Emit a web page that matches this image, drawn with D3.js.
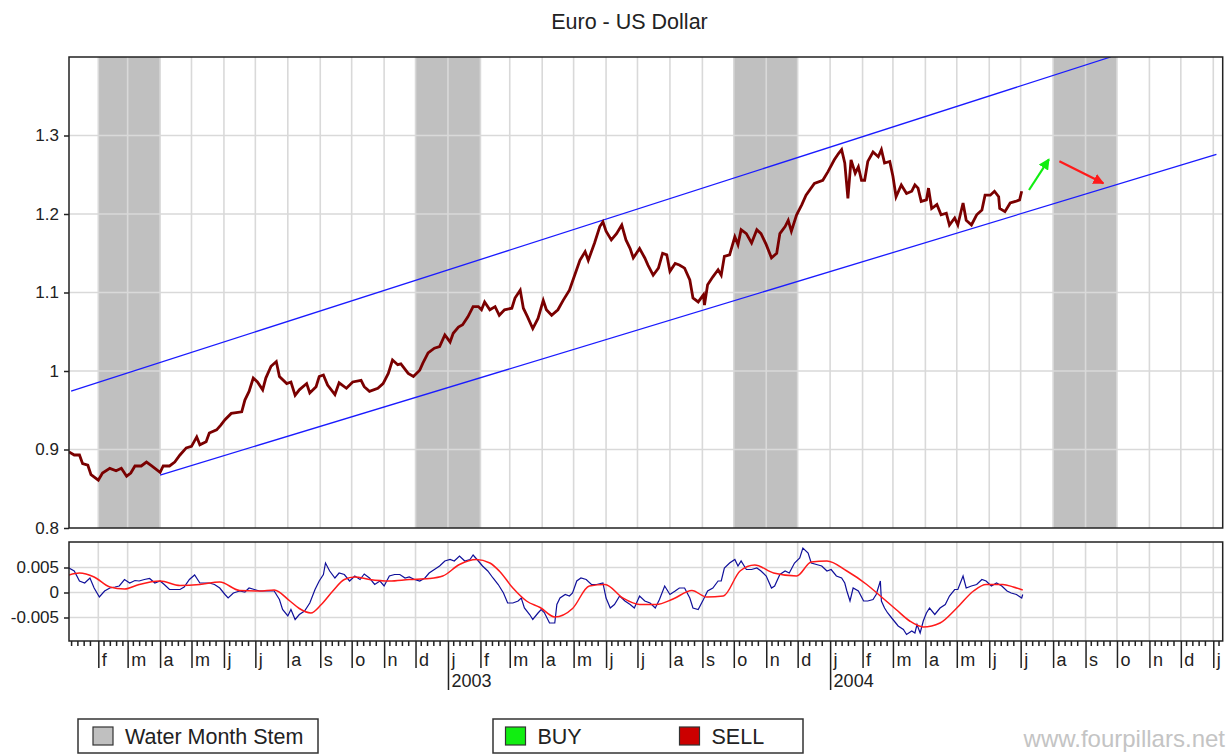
<!DOCTYPE html>
<html>
<head>
<meta charset="utf-8">
<script src="https://cdn.jsdelivr.net/npm/d3@7"></script>
<style>
  body { margin: 0; background: #fff; }
  svg { display: block; font-family: 'Liberation Sans', Arial, sans-serif; }
</style>
</head>
<body>
<svg id="chart" width="1229" height="754"></svg>
<script>
// ---- data ----
const price = [
  ['2002-01-04', 0.897], ['2002-01-09', 0.893], ['2002-01-14', 0.893], ['2002-01-17', 0.882], ['2002-01-22', 0.880],
  ['2002-01-25', 0.868], ['2002-02-01', 0.861], ['2002-02-05', 0.870], ['2002-02-12', 0.876], ['2002-02-18', 0.873],
  ['2002-02-23', 0.876], ['2002-02-28', 0.866], ['2002-03-04', 0.870], ['2002-03-08', 0.879], ['2002-03-14', 0.879],
  ['2002-03-19', 0.884], ['2002-03-24', 0.879], ['2002-04-01', 0.871], ['2002-04-04', 0.879], ['2002-04-10', 0.879],
  ['2002-04-15', 0.884], ['2002-04-20', 0.893], ['2002-04-26', 0.902], ['2002-05-01', 0.904], ['2002-05-06', 0.916],
  ['2002-05-09', 0.906], ['2002-05-15', 0.910], ['2002-05-18', 0.921], ['2002-05-25', 0.925], ['2002-05-29', 0.931],
  ['2002-06-02', 0.938], ['2002-06-08', 0.946], ['2002-06-18', 0.948], ['2002-06-21', 0.963], ['2002-06-25', 0.974],
  ['2002-06-29', 0.991], ['2002-07-03', 0.986], ['2002-07-08', 0.976], ['2002-07-11', 0.991], ['2002-07-16', 1.006],
  ['2002-07-21', 1.012], ['2002-07-24', 0.993], ['2002-07-31', 0.984], ['2002-08-04', 0.986], ['2002-08-08', 0.969],
  ['2002-08-12', 0.976], ['2002-08-19', 0.984], ['2002-08-22', 0.972], ['2002-08-28', 0.980], ['2002-08-31', 0.993],
  ['2002-09-04', 0.995], ['2002-09-08', 0.982], ['2002-09-15', 0.970], ['2002-09-19', 0.985], ['2002-09-26', 0.978],
  ['2002-10-02', 0.986], ['2002-10-10', 0.988], ['2002-10-13', 0.980], ['2002-10-18', 0.974], ['2002-10-26', 0.978],
  ['2002-10-31', 0.984], ['2002-11-05', 0.997], ['2002-11-09', 1.014], ['2002-11-14', 1.008], ['2002-11-17', 1.009],
  ['2002-11-24', 0.997], ['2002-11-29', 0.993], ['2002-12-05', 1.001], ['2002-12-08', 1.010], ['2002-12-13', 1.023],
  ['2002-12-19', 1.029], ['2002-12-24', 1.031], ['2002-12-29', 1.046], ['2003-01-03', 1.037], ['2003-01-06', 1.048],
  ['2003-01-11', 1.056], ['2003-01-15', 1.059], ['2003-01-20', 1.069], ['2003-01-25', 1.082], ['2003-01-30', 1.082],
  ['2003-02-02', 1.078], ['2003-02-05', 1.088], ['2003-02-10', 1.078], ['2003-02-15', 1.082], ['2003-02-19', 1.071],
  ['2003-02-24', 1.078], ['2003-03-03', 1.080], ['2003-03-06', 1.093], ['2003-03-11', 1.103], ['2003-03-14', 1.080],
  ['2003-03-18', 1.069], ['2003-03-23', 1.054], ['2003-03-28', 1.067], ['2003-04-02', 1.090], ['2003-04-05', 1.078],
  ['2003-04-10', 1.071], ['2003-04-16', 1.078], ['2003-04-21', 1.090], ['2003-04-27', 1.103], ['2003-05-02', 1.122],
  ['2003-05-07', 1.141], ['2003-05-12', 1.152], ['2003-05-15', 1.141], ['2003-05-21', 1.163], ['2003-05-26', 1.184],
  ['2003-05-29', 1.190], ['2003-06-01', 1.178], ['2003-06-06', 1.167], ['2003-06-11', 1.175], ['2003-06-16', 1.186],
  ['2003-06-20', 1.167], ['2003-06-24', 1.156], ['2003-06-27', 1.144], ['2003-07-03', 1.156], ['2003-07-08', 1.144],
  ['2003-07-11', 1.135], ['2003-07-16', 1.122], ['2003-07-21', 1.131], ['2003-07-25', 1.150], ['2003-07-29', 1.148],
  ['2003-08-01', 1.127], ['2003-08-06', 1.137], ['2003-08-10', 1.135], ['2003-08-15', 1.131], ['2003-08-20', 1.116],
  ['2003-08-23', 1.093], ['2003-08-28', 1.088], ['2003-09-02', 1.097], ['2003-09-03', 1.084], ['2003-09-06', 1.110],
  ['2003-09-11', 1.120], ['2003-09-16', 1.129], ['2003-09-19', 1.122], ['2003-09-22', 1.146], ['2003-09-27', 1.148],
  ['2003-10-02', 1.171], ['2003-10-05', 1.161], ['2003-10-08', 1.180], ['2003-10-13', 1.175], ['2003-10-18', 1.163],
  ['2003-10-23', 1.180], ['2003-10-27', 1.175], ['2003-11-01', 1.161], ['2003-11-06', 1.144], ['2003-11-11', 1.150],
  ['2003-11-14', 1.175], ['2003-11-19', 1.184], ['2003-11-22', 1.192], ['2003-11-25', 1.178], ['2003-11-30', 1.199],
  ['2003-12-05', 1.212], ['2003-12-09', 1.224], ['2003-12-17', 1.239], ['2003-12-25', 1.243], ['2003-12-30', 1.254],
  ['2004-01-05', 1.269], ['2004-01-09', 1.277], ['2004-01-12', 1.282], ['2004-01-15', 1.265], ['2004-01-18', 1.220],
  ['2004-01-21', 1.269], ['2004-01-25', 1.252], ['2004-01-28', 1.260], ['2004-01-31', 1.243], ['2004-02-03', 1.243],
  ['2004-02-06', 1.267], ['2004-02-11', 1.279], ['2004-02-16', 1.273], ['2004-02-19', 1.282], ['2004-02-22', 1.265],
  ['2004-02-27', 1.267], ['2004-03-01', 1.248], ['2004-03-04', 1.222], ['2004-03-09', 1.237], ['2004-03-14', 1.226],
  ['2004-03-19', 1.229], ['2004-03-22', 1.237], ['2004-03-25', 1.233], ['2004-03-28', 1.216], ['2004-04-02', 1.218],
  ['2004-04-04', 1.233], ['2004-04-07', 1.207], ['2004-04-12', 1.212], ['2004-04-16', 1.199], ['2004-04-21', 1.201],
  ['2004-04-24', 1.186], ['2004-04-29', 1.195], ['2004-05-02', 1.186], ['2004-05-07', 1.214], ['2004-05-10', 1.192],
  ['2004-05-15', 1.186], ['2004-05-20', 1.199], ['2004-05-25', 1.205], ['2004-05-28', 1.224], ['2004-06-02', 1.224],
  ['2004-06-06', 1.229], ['2004-06-10', 1.222], ['2004-06-11', 1.207], ['2004-06-16', 1.203], ['2004-06-21', 1.214],
  ['2004-06-26', 1.216], ['2004-06-30', 1.218], ['2004-07-02', 1.229]
];

// lower panel, fast (blue) line
const oscillator = [
  ['2002-01-04', 0.0049], ['2002-01-09', 0.0043], ['2002-01-14', 0.0023], ['2002-01-19', 0.0019], ['2002-01-24', 0.0029],
  ['2002-01-28', 0.0009], ['2002-02-02', -0.0009], ['2002-02-07', 0.0003], ['2002-02-12', 0.0009], ['2002-02-17', 0.0011],
  ['2002-02-21', 0.0013], ['2002-02-26', 0.0026], ['2002-03-03', 0.0019], ['2002-03-08', 0.0024], ['2002-03-12', 0.0023],
  ['2002-03-17', 0.0026], ['2002-03-22', 0.0028], ['2002-03-27', 0.0019], ['2002-04-01', 0.0023], ['2002-04-05', 0.0016],
  ['2002-04-10', 0.0006], ['2002-04-15', 0.0006], ['2002-04-20', 0.0006], ['2002-04-24', 0.0011], ['2002-04-29', 0.0026],
  ['2002-05-04', 0.0035], ['2002-05-09', 0.0019], ['2002-05-14', 0.0019], ['2002-05-18', 0.0019], ['2002-05-23', 0.0016],
  ['2002-05-28', 0.0009], ['2002-06-02', -0.0004], ['2002-06-05', -0.0011], ['2002-06-10', -0.0001], ['2002-06-16', 0.0003],
  ['2002-06-21', 0.0001], ['2002-06-25', 0.0009], ['2002-06-30', 0.0006], ['2002-07-05', 0.0003], ['2002-07-10', 0.0003],
  ['2002-07-15', 0.0003], ['2002-07-19', 0.0003], ['2002-07-24', -0.0014], ['2002-07-27', -0.0034], ['2002-08-01', -0.0047],
  ['2002-08-04', -0.0034], ['2002-08-08', -0.0054], ['2002-08-12', -0.0044], ['2002-08-17', -0.0037], ['2002-08-22', -0.0021],
  ['2002-08-27', 0.0006], ['2002-08-31', 0.0023], ['2002-09-04', 0.0036], ['2002-09-06', 0.0059], ['2002-09-10', 0.0043],
  ['2002-09-15', 0.0029], ['2002-09-19', 0.0039], ['2002-09-24', 0.0036], ['2002-09-29', 0.0023], ['2002-10-04', 0.0033],
  ['2002-10-09', 0.0026], ['2002-10-13', 0.0037], ['2002-10-18', 0.0029], ['2002-10-23', 0.0016], ['2002-10-28', 0.0023],
  ['2002-11-01', 0.0013], ['2002-11-06', 0.0033], ['2002-11-11', 0.0036], ['2002-11-16', 0.0036], ['2002-11-21', 0.0029],
  ['2002-11-25', 0.0031], ['2002-11-30', 0.0026], ['2002-12-05', 0.0023], ['2002-12-10', 0.0029], ['2002-12-14', 0.0039],
  ['2002-12-19', 0.0046], ['2002-12-24', 0.0053], ['2002-12-29', 0.0063], ['2003-01-03', 0.0066], ['2003-01-07', 0.0063],
  ['2003-01-12', 0.0073], ['2003-01-17', 0.0063], ['2003-01-22', 0.0066], ['2003-01-25', 0.0075], ['2003-01-30', 0.0063],
  ['2003-02-03', 0.0053], ['2003-02-08', 0.0043], ['2003-02-13', 0.0029], ['2003-02-18', 0.0016], ['2003-02-23', -0.0001],
  ['2003-02-27', -0.0021], ['2003-03-04', -0.0021], ['2003-03-09', -0.0017], ['2003-03-12', -0.0011], ['2003-03-15', -0.0031],
  ['2003-03-20', -0.0044], ['2003-03-23', -0.0054], ['2003-03-28', -0.0041], ['2003-03-31', -0.0034], ['2003-04-03', -0.0040],
  ['2003-04-08', -0.0061], ['2003-04-13', -0.0061], ['2003-04-15', -0.0024], ['2003-04-18', -0.0011], ['2003-04-23', -0.0004],
  ['2003-04-27', -0.0007], ['2003-04-30', -0.0001], ['2003-05-04', 0.0023], ['2003-05-08', 0.0029], ['2003-05-13', 0.0026],
  ['2003-05-18', 0.0016], ['2003-05-23', 0.0016], ['2003-05-29', 0.0019], ['2003-06-01', -0.0011], ['2003-06-05', -0.0031],
  ['2003-06-09', -0.0024], ['2003-06-14', -0.0007], ['2003-06-19', -0.0017], ['2003-06-24', -0.0024], ['2003-06-28', -0.0031],
  ['2003-07-03', -0.0007], ['2003-07-08', -0.0017], ['2003-07-13', -0.0021], ['2003-07-18', -0.0031], ['2003-07-22', -0.0014],
  ['2003-07-27', 0.0013], ['2003-08-01', -0.0004], ['2003-08-06', 0.0003], ['2003-08-10', 0.0009], ['2003-08-15', 0.0009],
  ['2003-08-20', -0.0011], ['2003-08-23', -0.0031], ['2003-08-28', -0.0034], ['2003-09-02', -0.0014], ['2003-09-06', 0.0003],
  ['2003-09-11', 0.0009], ['2003-09-16', 0.0023], ['2003-09-19', 0.0023], ['2003-09-22', 0.0049], ['2003-09-27', 0.0059],
  ['2003-10-02', 0.0066], ['2003-10-05', 0.0053], ['2003-10-08', 0.0063], ['2003-10-13', 0.0046], ['2003-10-18', 0.0046],
  ['2003-10-23', 0.0049], ['2003-10-27', 0.0043], ['2003-11-01', 0.0033], ['2003-11-06', 0.0009], ['2003-11-09', 0.0013],
  ['2003-11-14', 0.0036], ['2003-11-19', 0.0043], ['2003-11-23', 0.0039], ['2003-11-28', 0.0059], ['2003-12-03', 0.0069],
  ['2003-12-06', 0.0089], ['2003-12-11', 0.0079], ['2003-12-14', 0.0059], ['2003-12-19', 0.0056], ['2003-12-24', 0.0053],
  ['2003-12-29', 0.0043], ['2004-01-02', 0.0046], ['2004-01-07', 0.0033], ['2004-01-12', 0.0029], ['2004-01-15', 0.0019],
  ['2004-01-17', 0.0003], ['2004-01-20', -0.0017], ['2004-01-23', 0.0009], ['2004-01-28', 0.0003], ['2004-02-02', -0.0017],
  ['2004-02-06', -0.0017], ['2004-02-11', -0.0014], ['2004-02-14', -0.0004], ['2004-02-18', 0.0023], ['2004-02-19', -0.0017],
  ['2004-02-22', -0.0031], ['2004-02-25', -0.0041], ['2004-03-01', -0.0054], ['2004-03-06', -0.0067], ['2004-03-11', -0.0074],
  ['2004-03-14', -0.0084], ['2004-03-19', -0.0077], ['2004-03-22', -0.0081], ['2004-03-24', -0.0064], ['2004-03-27', -0.0081],
  ['2004-03-30', -0.0057], ['2004-04-02', -0.0041], ['2004-04-05', -0.0031], ['2004-04-10', -0.0044], ['2004-04-15', -0.0031],
  ['2004-04-20', -0.0024], ['2004-04-24', -0.0007], ['2004-04-29', 0.0006], ['2004-05-02', 0.0006], ['2004-05-07', 0.0033],
  ['2004-05-10', 0.0009], ['2004-05-15', 0.0013], ['2004-05-20', 0.0016], ['2004-05-25', 0.0026], ['2004-05-29', 0.0023],
  ['2004-06-03', 0.0013], ['2004-06-08', 0.0019], ['2004-06-13', 0.0013], ['2004-06-18', 0.0003], ['2004-06-22', -0.0001],
  ['2004-06-27', -0.0004], ['2004-07-02', -0.0011], ['2004-07-03', -0.0004]
];

// lower panel, smoothed (red) line
const signal = [
  ['2002-01-04', 0.0035], ['2002-01-14', 0.0039], ['2002-01-28', 0.0031], ['2002-02-12', 0.0011], ['2002-02-26', 0.0007],
  ['2002-03-12', 0.0016], ['2002-04-01', 0.0023], ['2002-04-20', 0.0014], ['2002-05-09', 0.0016], ['2002-05-28', 0.0021],
  ['2002-06-16', 0.0004], ['2002-07-05', 0.0003], ['2002-07-19', 0.0005], ['2002-08-03', -0.0017], ['2002-08-12', -0.0032],
  ['2002-08-23', -0.0041], ['2002-09-02', -0.0024], ['2002-09-13', 0.0003], ['2002-09-24', 0.0026], ['2002-10-04', 0.0031],
  ['2002-10-18', 0.0026], ['2002-11-06', 0.0023], ['2002-11-25', 0.0026], ['2002-12-14', 0.0028], ['2002-12-27', 0.0033],
  ['2003-01-12', 0.0056], ['2003-01-28', 0.0066], ['2003-02-10', 0.0059], ['2003-02-19', 0.0043], ['2003-03-04', 0.0009],
  ['2003-03-17', -0.0017], ['2003-03-30', -0.0030], ['2003-04-13', -0.0049], ['2003-04-30', -0.0032], ['2003-05-16', 0.0013],
  ['2003-05-31', 0.0016], ['2003-06-17', -0.0011], ['2003-07-03', -0.0024], ['2003-07-19', -0.0024], ['2003-08-04', -0.0013],
  ['2003-08-22', 0.0004], ['2003-09-05', -0.0009], ['2003-09-21', -0.0007], ['2003-10-07', 0.0043], ['2003-10-21', 0.0055],
  ['2003-11-08', 0.0039], ['2003-11-30', 0.0033], ['2003-12-14', 0.0061], ['2003-12-29', 0.0063], ['2004-01-17', 0.0043],
  ['2004-02-05', 0.0016], ['2004-02-18', -0.0007], ['2004-03-04', -0.0034], ['2004-03-17', -0.0057], ['2004-03-30', -0.0069],
  ['2004-04-15', -0.0061], ['2004-05-01', -0.0031], ['2004-05-17', 0.0003], ['2004-05-29', 0.0016], ['2004-06-14', 0.0016],
  ['2004-06-24', 0.0011], ['2004-07-03', 0.0005]
];

const waterBands = [
  ['2002-02-01', '2002-04-01'], ['2002-12-01', '2003-02-01'],
  ['2003-10-01', '2003-12-01'], ['2004-08-01', '2004-10-01']
];
const upperChannel = [['2002-01-06', 0.9745], ['2004-09-25', 1.4]];
const lowerChannel = [['2002-04-01', 0.8675], ['2005-01-04', 1.276]];
const buyArrow = [['2004-07-09', 1.2306], ['2004-07-28', 1.2697]];
const sellArrow = [['2004-08-07', 1.2671], ['2004-09-18', 1.2391]];

const priceTicks = [0.8, 0.9, 1.0, 1.1, 1.2, 1.3];
const priceTickLabels = ['0.8', '0.9', '1', '1.1', '1.2', '1.3'];
const oscTicks = [0.005, 0, -0.005];
const oscTickLabels = ['0.005', '0', '-0.005'];
const monthLetters = ['j', 'f', 'm', 'a', 'm', 'j', 'j', 'a', 's', 'o', 'n', 'd'];
const minorTickDays = [6, 12, 18, 24];

// ---- layout ----
const parseDate = d3.timeParse('%Y-%m-%d');
const left = 69, right = 1222.7;
const main = { top: 57, bottom: 528 };
const lower = { top: 542, bottom: 641 };
const gridColor = '#d9d9d9';
const frameColor = '#222';

const svg = d3.select('#chart');

const x = d3.scaleTime()
  .domain([parseDate('2002-01-04'), parseDate('2005-01-10')])
  .range([left, right]);
const y = d3.scaleLinear().domain([0.8, 1.4]).range([main.bottom, main.top]);
const yOsc = d3.scaleLinear().domain([-0.0097, 0.0101]).range([lower.bottom, lower.top]);

const months = d3.timeMonth.range(d3.timeMonth.ceil(x.domain()[0]), x.domain()[1]);
const minorDays = [];
d3.timeMonth.range(d3.timeMonth.floor(x.domain()[0]), x.domain()[1]).forEach((m) => {
  minorTickDays.forEach((day) => {
    const d = new Date(m.getFullYear(), m.getMonth(), day);
    if (d >= x.domain()[0] && d <= x.domain()[1]) minorDays.push(d);
  });
});

const toPoints = (rows) => rows.map(([d, v]) => ({ date: parseDate(d), value: v }));

// title
svg.append('text')
  .attr('x', 629.5)
  .attr('y', 29)
  .attr('text-anchor', 'middle')
  .style('font-size', '21.5px')
  .attr('fill', '#222')
  .text('Euro - US Dollar');

// ---- main panel ----
const mainG = svg.append('g');

mainG.selectAll('rect.band')
  .data(waterBands)
  .join('rect')
  .attr('class', 'band')
  .attr('x', (d) => x(parseDate(d[0])))
  .attr('width', (d) => x(parseDate(d[1])) - x(parseDate(d[0])))
  .attr('y', main.top)
  .attr('height', main.bottom - main.top)
  .attr('fill', '#c0c0c0');

function drawGrid(g, yScale, yValues, top, bottom) {
  g.selectAll('line.vgrid')
    .data(months)
    .join('line')
    .attr('class', 'vgrid')
    .attr('x1', (d) => x(d)).attr('x2', (d) => x(d))
    .attr('y1', top).attr('y2', bottom)
    .attr('stroke', gridColor)
    .attr('stroke-width', 1.6);
  g.selectAll('line.hgrid')
    .data(yValues)
    .join('line')
    .attr('class', 'hgrid')
    .attr('x1', left).attr('x2', right)
    .attr('y1', (d) => yScale(d)).attr('y2', (d) => yScale(d))
    .attr('stroke', gridColor)
    .attr('stroke-width', 1.6);
}

drawGrid(mainG, y, priceTicks.slice(1), main.top, main.bottom);

const defs = svg.append('defs');
defs.append('clipPath').attr('id', 'clipMain')
  .append('rect')
  .attr('x', left).attr('y', main.top)
  .attr('width', right - left).attr('height', main.bottom - main.top);

// arrow heads
[['headGreen', '#11ee11'], ['headRed', '#ff1a1a']].forEach(([id, color]) => {
  defs.append('marker')
    .attr('id', id)
    .attr('viewBox', '0 0 10 10')
    .attr('refX', 9).attr('refY', 5)
    .attr('markerWidth', 5).attr('markerHeight', 5)
    .attr('markerUnits', 'strokeWidth')
    .attr('orient', 'auto')
    .append('path')
    .attr('d', 'M0,0L10,5L0,10z')
    .attr('fill', color);
});

const lineGen = d3.line()
  .x((d) => x(d.date))
  .y((d) => y(d.value));

const overlay = mainG.append('g').attr('clip-path', 'url(#clipMain)');

[upperChannel, lowerChannel].forEach((chan) => {
  overlay.append('path')
    .datum(toPoints(chan))
    .attr('d', lineGen)
    .attr('fill', 'none')
    .attr('stroke', '#1a1aff')
    .attr('stroke-width', 1.3);
});

overlay.append('path')
  .datum(toPoints(price))
  .attr('d', lineGen)
  .attr('fill', 'none')
  .attr('stroke', '#7a0000')
  .attr('stroke-width', 2.8)
  .attr('stroke-linejoin', 'miter');

overlay.append('path')
  .datum(toPoints(buyArrow))
  .attr('d', lineGen)
  .attr('stroke', '#11ee11')
  .attr('stroke-width', 2.2)
  .attr('marker-end', 'url(#headGreen)');

overlay.append('path')
  .datum(toPoints(sellArrow))
  .attr('d', lineGen)
  .attr('stroke', '#ff1a1a')
  .attr('stroke-width', 2.2)
  .attr('marker-end', 'url(#headRed)');

mainG.append('rect')
  .attr('x', left).attr('y', main.top)
  .attr('width', right - left).attr('height', main.bottom - main.top)
  .attr('fill', 'none')
  .attr('stroke', frameColor)
  .attr('stroke-width', 1.5);

function styleAxis(g) {
  g.select('.domain').remove();
  g.selectAll('.tick line').attr('stroke', frameColor).attr('stroke-width', 1.5);
  g.selectAll('.tick text').attr('fill', '#222').style('font-size', '17px');
}

mainG.append('g')
  .attr('transform', `translate(${left},0)`)
  .call(d3.axisLeft(y)
    .tickValues(priceTicks)
    .tickFormat((d, i) => priceTickLabels[i])
    .tickSize(5)
    .tickPadding(5))
  .call(styleAxis);

// ---- lower panel ----
const lowerG = svg.append('g');
drawGrid(lowerG, yOsc, oscTicks, lower.top, lower.bottom);

defs.append('clipPath').attr('id', 'clipLower')
  .append('rect')
  .attr('x', left).attr('y', lower.top)
  .attr('width', right - left).attr('height', lower.bottom - lower.top);

const oscLine = d3.line()
  .x((d) => x(d.date))
  .y((d) => yOsc(d.value));

const oscG = lowerG.append('g').attr('clip-path', 'url(#clipLower)');

oscG.append('path')
  .datum(toPoints(oscillator))
  .attr('d', oscLine)
  .attr('fill', 'none')
  .attr('stroke', '#10109a')
  .attr('stroke-width', 1.2);

oscG.append('path')
  .datum(toPoints(signal))
  .attr('d', oscLine.curve(d3.curveMonotoneX))
  .attr('fill', 'none')
  .attr('stroke', '#ff1a1a')
  .attr('stroke-width', 1.5);

lowerG.append('rect')
  .attr('x', left).attr('y', lower.top)
  .attr('width', right - left).attr('height', lower.bottom - lower.top)
  .attr('fill', 'none')
  .attr('stroke', frameColor)
  .attr('stroke-width', 1.5);

lowerG.append('g')
  .attr('transform', `translate(${left},0)`)
  .call(d3.axisLeft(yOsc)
    .tickValues(oscTicks)
    .tickFormat((d, i) => oscTickLabels[i])
    .tickSize(5)
    .tickPadding(5))
  .call(styleAxis);

// minor ticks between months
lowerG.append('g')
  .attr('transform', `translate(0,${lower.bottom})`)
  .call(d3.axisBottom(x).tickValues(minorDays).tickSize(5).tickFormat(''))
  .call(styleAxis);

// month ticks and letters
const monthAxis = lowerG.append('g')
  .attr('transform', `translate(0,${lower.bottom})`)
  .call(d3.axisBottom(x)
    .tickValues(months)
    .tickSize(27)
    .tickFormat((d) => monthLetters[d.getMonth()]))
  .call(styleAxis);

monthAxis.selectAll('.tick text')
  .attr('x', 3)
  .attr('y', 25)
  .attr('dy', null)
  .style('text-anchor', 'start')
  .style('font-size', '18px');

// year marks
const yearTicks = monthAxis.selectAll('.tick')
  .filter((d) => d.getMonth() === 0 && d < parseDate('2005-01-01'));
yearTicks.select('line').attr('y2', 49);
yearTicks.append('text')
  .attr('x', 3)
  .attr('y', 46)
  .attr('fill', '#222')
  .style('font-size', '18px')
  .style('text-anchor', 'start')
  .text((d) => d.getFullYear());

// ---- legends ----
function legendBox(g, bx, bw, items) {
  g.append('rect')
    .attr('x', bx).attr('y', 719)
    .attr('width', bw).attr('height', 34)
    .attr('fill', '#fff')
    .attr('stroke', '#333')
    .attr('stroke-width', 1.5);
  items.forEach(([sx, color, label]) => {
    g.append('rect')
      .attr('x', sx).attr('y', 727)
      .attr('width', 20).attr('height', 18)
      .attr('fill', color)
      .attr('stroke', '#333')
      .attr('stroke-width', 1.2);
    g.append('text')
      .attr('x', sx + 32).attr('y', 744)
      .attr('fill', '#222')
      .style('font-size', '21.5px')
      .text(label);
  });
}

const legendG = svg.append('g');
legendBox(legendG, 78, 240, [[93, '#c0c0c0', 'Water Month Stem']]);
legendBox(legendG, 493, 310, [[505.5, '#11ee11', 'BUY'], [679.5, '#cc0000', 'SELL']]);

svg.append('text')
  .attr('x', 1225)
  .attr('y', 747)
  .attr('text-anchor', 'end')
  .attr('fill', '#c4c4c4')
  .style('font-size', '24px')
  .text('www.fourpillars.net');
</script>
</body>
</html>
